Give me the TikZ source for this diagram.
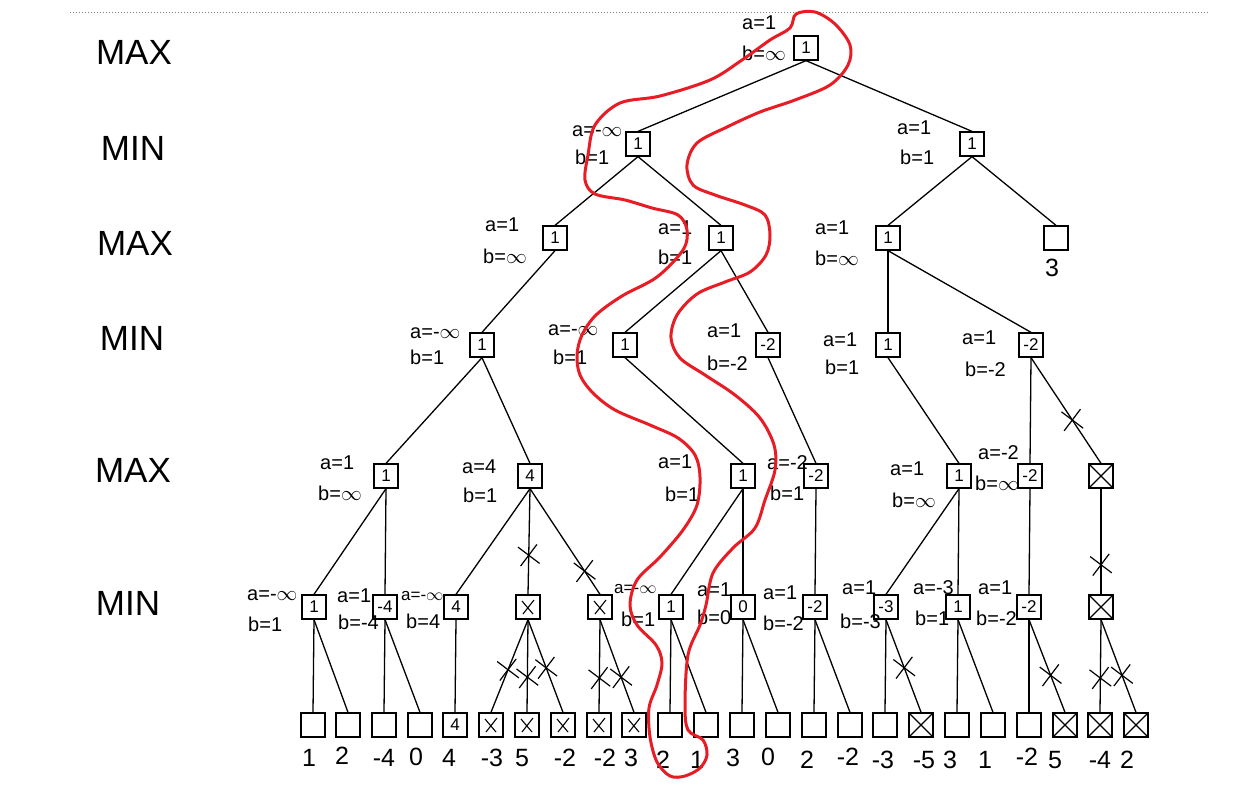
\documentclass[tikz,border=0pt]{standalone}
\usepackage{fontspec}
\setmainfont{Liberation Sans}
\usetikzlibrary{shapes.misc}
\definecolor{penred}{RGB}{232,28,36}
\begin{document}
\begin{tikzpicture}[x=1pt,y=-1pt,
  box/.style={draw, line width=1.3pt, minimum size=24pt, inner sep=0pt, font=\fontsize{17}{17}\selectfont},
  xbox/.style={box, path picture={\draw[line width=1.2pt] (path picture bounding box.south west) -- (path picture bounding box.north east) (path picture bounding box.north west) -- (path picture bounding box.south east);}},
  xhand/.style={box, path picture={\draw[line width=1.1pt] ([shift={(-5pt,-7pt)}]path picture bounding box.center) -- ([shift={(6pt,7pt)}]path picture bounding box.center) ([shift={(-6pt,6pt)}]path picture bounding box.center) -- ([shift={(5pt,-7pt)}]path picture bounding box.center);}},
  conn/.style={line width=1.3pt},
  lab/.style={anchor=west, font=\fontsize{20}{20}\selectfont, inner sep=0pt},
  labs/.style={lab, font=\fontsize{17}{17}\selectfont},
  lvl/.style={font=\fontsize{35}{35}\selectfont},
  val/.style={font=\fontsize{25}{25}\selectfont, inner sep=0pt},
  cut/.style={draw, cross out, line width=1.2pt, minimum size=18pt, inner sep=0pt, rotate=8}
]
\useasboundingbox (0,0) rectangle (1256,801);
\fill[white] (0,0) rectangle (1256,801);
\draw[gray, dotted, line width=1pt] (70,12) -- (1210,12);

% level names
\node[lvl] (t1) at (134,52) {MAX};
\node[lvl] (t2) at (133,148) {MIN};
\node[lvl] (t3) at (135,243) {MAX};
\node[lvl] (t4) at (132,338) {MIN};
\node[lvl] (t5) at (133,470) {MAX};
\node[lvl] (t6) at (128,603) {MIN};

% level 1
\node[box] (r) at (806,48) {1};
% level 2
\node[box] (m1) at (638,144) {1};
\node[box] (m2) at (972,144) {1};
% level 3
\node[box] (x1) at (555,238) {1};
\node[box] (x2) at (721,238) {1};
\node[box] (x3) at (888,238) {1};
\node[box] (x4) at (1056,238) {};
\node[val] (v0) at (1052,268) {3};
% level 4
\node[box] (n1) at (482,345) {1};
\node[box] (n2) at (625,345) {1};
\node[box] (n3) at (768,345) {-2};
\node[box] (n4) at (888,345) {1};
\node[box] (n5) at (1031,345) {-2};
% level 5
\node[box] (y1) at (386,476) {1};
\node[box] (y2) at (530,476) {4};
\node[box] (y3) at (743,476) {1};
\node[box] (y4) at (816,476) {-2};
\node[box] (y5) at (959,476) {1};
\node[box] (y6) at (1030,476) {-2};
\node[xbox] (y7) at (1101,476) {};
% level 6
\node[box] (z1) at (314,607) {1};
\node[box] (z2) at (385,607) {-4};
\node[box] (z3) at (456,607) {4};
\node[xhand] (z4) at (528,607) {};
\node[xhand] (z5) at (600,607) {};
\node[box] (z6) at (671,607) {1};
\node[box] (z7) at (743,607) {0};
\node[box] (z8) at (815,607) {-2};
\node[box] (z9) at (886,607) {-3};
\node[box] (z10) at (958,607) {1};
\node[box] (z11) at (1029,607) {-2};
\node[xbox] (z12) at (1101,607) {};

% leaves
\node[box] (l1) at (313,725) {};
\node[box] (l2) at (348,725) {};
\node[box] (l3) at (384,725) {};
\node[box] (l4) at (420,725) {};
\node[box] (l5) at (455,725) {4};
\node[xhand] (l6) at (491,725) {};
\node[xhand] (l7) at (527,725) {};
\node[xhand] (l8) at (563,725) {};
\node[xhand] (l9) at (599,725) {};
\node[xhand] (l10) at (634,725) {};
\node[box] (l11) at (670,725) {};
\node[box] (l12) at (706,725) {};
\node[box] (l13) at (742,725) {};
\node[box] (l14) at (778,725) {};
\node[box] (l15) at (814,725) {};
\node[box] (l16) at (850,725) {};
\node[box] (l17) at (885,725) {};
\node[xbox, line width=1.8pt] (l18) at (921,725) {};
\node[box] (l19) at (957,725) {};
\node[box] (l20) at (993,725) {};
\node[box] (l21) at (1029,725) {};
\node[xbox] (l22) at (1065,725) {};
\node[xbox] (l23) at (1100,725) {};
\node[xbox] (l24) at (1136,725) {};

% leaf values
\node[val] (w1) at (309,758) {1};
\node[val] (w2) at (342,756) {2};
\node[val] (w3) at (384,758) {-4};
\node[val] (w4) at (416,757) {0};
\node[val] (w5) at (449,758) {4};
\node[val] (w6) at (492,758) {-3};
\node[val] (w7) at (522,758) {5};
\node[val] (w8) at (565,758) {-2};
\node[val] (w9) at (605,758) {-2};
\node[val] (w10) at (631,758) {3};
\node[val] (w11) at (663,760) {2};
\node[val] (w12) at (697,760) {1};
\node[val] (w13) at (733,758) {3};
\node[val] (w14) at (768,757) {0};
\node[val] (w15) at (807,760) {2};
\node[val] (w16) at (848,757) {-2};
\node[val] (w17) at (883,760) {-3};
\node[val] (w18) at (924,760) {-5};
\node[val] (w19) at (950,760) {3};
\node[val] (w20) at (985,760) {1};
\node[val] (w21) at (1027,757) {-2};
\node[val] (w22) at (1055,760) {5};
\node[val] (w23) at (1100,760) {-4};
\node[val] (w24) at (1127,760) {2};

% edges
\foreach \p/\c in {r/m1,r/m2,m1/x1,m1/x2,m2/x3,m2/x4,x1/n1,x2/n2,x2/n3,x3/n4,x3/n5,
  n1/y1,n1/y2,n2/y3,n3/y4,n4/y5,n5/y6,n5/y7,
  y1/z1,y1/z2,y2/z3,y2/z4,y2/z5,y3/z6,y3/z7,y4/z8,y5/z9,y5/z10,y6/z11,y7/z12,
  z1/l1,z1/l2,z2/l3,z2/l4,z3/l5,z4/l6,z4/l7,z4/l8,z5/l9,z5/l10,z6/l11,z6/l12,
  z7/l13,z7/l14,z8/l15,z8/l16,z9/l17,z9/l18,z10/l19,z10/l20,z11/l21,z11/l22,z12/l23,z12/l24}
  \draw[conn] (\p.south) -- (\c.north);

% pruning marks
\path (y2.south) -- node[cut, pos=.63] (k1) {} (z4.north);
\path (y2.south) -- node[cut, pos=.78] (k2) {} (z5.north);
\path (z4.south) -- node[cut, pos=.54] (k3) {} (l6.north);
\path (z4.south) -- node[cut, pos=.62] (k4) {} (l7.north);
\path (z4.south) -- node[cut, pos=.52] (k5) {} (l8.north);
\path (z5.south) -- node[cut, pos=.63] (k6) {} (l9.north);
\path (z5.south) -- node[cut, pos=.62] (k7) {} (l10.north);
\path (n5.south) -- node[cut, pos=.59] (k8) {} (y7.north);
\path (y7.south) -- node[cut, pos=.72] (k9) {} (z12.north);
\path (z9.south) -- node[cut, pos=.52] (k10) {} (l18.north);
\path (z11.south) -- node[cut, pos=.60] (k11) {} (l22.north);
\path (z12.south) -- node[cut, pos=.63] (k12) {} (l23.north);
\path (z12.south) -- node[cut, pos=.60] (k13) {} (l24.north);

% alpha/beta labels
\node[lab] (ra) at (742,23) {a=1};
\node[lab] (rb) at (742,53) {b=$\infty$};
\node[lab] (m1a) at (572,131) {a=-$\infty$};
\node[lab] (m1b) at (575,157) {b=1};
\node[lab] (m2a) at (897,128) {a=1};
\node[lab] (m2b) at (900,157) {b=1};
\node[lab] (x1a) at (485,225) {a=1};
\node[lab] (x1b) at (483,256) {b=$\infty$};
\node[lab] (x2a) at (658,228) {a=1};
\node[lab] (x2b) at (658,257) {b=1};
\node[lab] (x3a) at (815,228) {a=1};
\node[lab] (x3b) at (815,258) {b=$\infty$};
\node[lab] (n1a) at (410,333) {a=-$\infty$};
\node[lab] (n1b) at (410,357) {b=1};
\node[lab] (n2a) at (548,330) {a=-$\infty$};
\node[lab] (n2b) at (553,357) {b=1};
\node[lab] (n3a) at (707,331) {a=1};
\node[lab] (n3b) at (707,363) {b=-2};
\node[lab] (n4a) at (823,340) {a=1};
\node[lab] (n4b) at (825,367) {b=1};
\node[lab] (n5a) at (962,338) {a=1};
\node[lab] (n5b) at (965,369) {b=-2};
\node[lab] (y1a) at (320,463) {a=1};
\node[lab] (y1b) at (318,493) {b=$\infty$};
\node[lab] (y2a) at (462,467) {a=4};
\node[lab] (y2b) at (463,495) {b=1};
\node[lab] (y3a) at (658,462) {a=1};
\node[lab] (y3b) at (665,494) {b=1};
\node[lab] (y4a) at (767,463) {a=-2};
\node[lab] (y4b) at (770,493) {b=1};
\node[lab] (y5a) at (890,469) {a=1};
\node[lab] (y5b) at (892,500) {b=$\infty$};
\node[lab] (y6a) at (978,453) {a=-2};
\node[lab] (y6b) at (975,483) {b=$\infty$};
\node[lab] (z1a) at (247,595) {a=-$\infty$};
\node[lab] (z1b) at (248,624) {b=1};
\node[lab] (z2a) at (337,596) {a=1};
\node[lab] (z2b) at (338,622) {b=-4};
\node[labs] (z3a) at (401,596) {a=-$\infty$};
\node[lab] (z3b) at (406,621) {b=4};
\node[labs] (z6a) at (614,589) {a=-$\infty$};
\node[lab] (z6b) at (621,619) {b=1};
\node[lab] (z7a) at (697,590) {a=1};
\node[lab] (z7b) at (697,617) {b=0};
\node[lab] (z8a) at (763,593) {a=1};
\node[lab] (z8b) at (763,623) {b=-2};
\node[lab] (z9a) at (842,588) {a=1};
\node[lab] (z9b) at (840,621) {b=-3};
\node[lab] (z10a) at (913,588) {a=-3};
\node[lab] (z10b) at (915,618) {b=1};
\node[lab] (z11a) at (978,588) {a=1};
\node[lab] (z11b) at (976,618) {b=-2};

% principal variation loop
\draw[penred, line width=3pt, line cap=round, line join=round]
  plot[smooth cycle, tension=0.55] coordinates {
  (790,28) (796,14) (815,12) (835,24) (850,45) (848,65) (830,85) (795,100) (760,112)
  (727,127) (697,143) (687,165) (693,185) (715,195) (745,205) (765,215) (770,235)
  (766,255) (750,272) (725,282) (697,294) (677,315) (671,338) (680,358) (705,375)
  (735,395) (760,418) (774,445) (775,470) (765,500) (755,528) (733,548) (713,573)
  (706,605) (700,625) (688,655) (685,705) (688,730) (703,740) (707,755) (700,768)
  (685,776) (670,776) (657,762) (650,737) (649,708) (657,685) (662,663) (656,645)
  (637,625) (630,605) (637,580) (660,557) (683,530) (697,505) (700,477) (695,455)
  (678,438) (650,425) (615,410) (593,393) (580,375) (577,355) (582,335) (596,315)
  (622,296) (657,277) (683,250) (687,230) (678,215) (652,208) (625,200) (595,194)
  (585,180) (588,155) (595,125) (620,103) (660,96) (710,80) (742,60) (770,40)};
\end{tikzpicture}
\end{document}
